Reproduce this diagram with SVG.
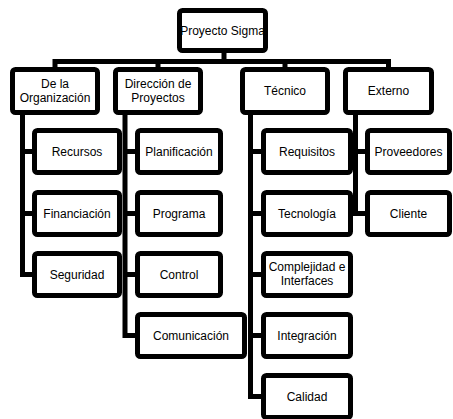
<svg xmlns="http://www.w3.org/2000/svg" width="453" height="419" viewBox="0 0 453 419">
<style>
.box{fill:#fff;stroke:#000;stroke-width:5}
.con{fill:none;stroke:#000;stroke-width:5;stroke-linejoin:miter;stroke-linecap:butt}
text{font-family:"Liberation Sans",Arial,sans-serif;font-size:12px;fill:#000;text-anchor:middle}
</style>
<rect width="453" height="419" fill="#fff"/>
<g id="connectors">
<path class="con" d="M224,53 V61.5 M55,67 V61.5 H388.5 V67 M158,61.5 V67 M285,61.5 V67"/>
<path class="con" d="M22.5,115 V274.5 H32 M22.5,151.5 H32 M22.5,213.5 H32"/>
<path class="con" d="M125,115 V335.5 H135 M125,151.5 H135 M125,213.5 H135 M125,274.5 H135"/>
<path class="con" d="M250.5,115 V396.5 H261 M250.5,151.5 H261 M250.5,213.5 H261 M250.5,274.5 H261 M250.5,335.5 H261"/>
<path class="con" d="M355.5,115 V213.5 H365 M355.5,151.5 H365"/>
</g>
<g id="root"><rect class="box" x="179.5" y="10.5" width="86" height="40" rx="3"/><text x="222.5" y="34.5">Proyecto Sigma</text></g>
<g id="org"><rect class="box" x="12.5" y="69.5" width="85" height="43" rx="3"/><text x="55" y="88">De la</text><text x="55" y="102">Organización</text></g>
<g id="dir"><rect class="box" x="115.5" y="69.5" width="85" height="43" rx="3"/><text x="158" y="88">Dirección de</text><text x="158" y="102">Proyectos</text></g>
<g id="tec"><rect class="box" x="242.5" y="69.5" width="85" height="43" rx="3"/><text x="285" y="95">Técnico</text></g>
<g id="ext"><rect class="box" x="345.5" y="69.5" width="86" height="43" rx="3"/><text x="388.5" y="95">Externo</text></g>
<g id="recursos"><rect class="box" x="34.5" y="130.5" width="85" height="42" rx="3"/><text x="77" y="156">Recursos</text></g>
<g id="financiacion"><rect class="box" x="34.5" y="192.5" width="85" height="42" rx="3"/><text x="77" y="218">Financiación</text></g>
<g id="seguridad"><rect class="box" x="34.5" y="253.5" width="85" height="42" rx="3"/><text x="77" y="279">Seguridad</text></g>
<g id="planificacion"><rect class="box" x="137.5" y="130.5" width="83" height="42" rx="3"/><text x="179" y="156">Planificación</text></g>
<g id="programa"><rect class="box" x="137.5" y="192.5" width="83" height="42" rx="3"/><text x="179" y="218">Programa</text></g>
<g id="control"><rect class="box" x="137.5" y="253.5" width="83" height="42" rx="3"/><text x="179" y="279">Control</text></g>
<g id="comunicacion"><rect class="box" x="137.5" y="314.5" width="107" height="42" rx="3"/><text x="191" y="340">Comunicación</text></g>
<g id="requisitos"><rect class="box" x="263.5" y="130.5" width="87" height="42" rx="3"/><text x="307" y="156">Requisitos</text></g>
<g id="tecnologia"><rect class="box" x="263.5" y="192.5" width="87" height="42" rx="3"/><text x="307" y="218">Tecnología</text></g>
<g id="complejidad"><rect class="box" x="263.5" y="253.5" width="87" height="42" rx="3"/><text x="307" y="271">Complejidad e</text><text x="307" y="285">Interfaces</text></g>
<g id="integracion"><rect class="box" x="263.5" y="314.5" width="87" height="42" rx="3"/><text x="307" y="340">Integración</text></g>
<g id="calidad"><rect class="box" x="263.5" y="375.5" width="87" height="42" rx="3"/><text x="307" y="401">Calidad</text></g>
<g id="proveedores"><rect class="box" x="367.5" y="130.5" width="82" height="42" rx="3"/><text x="408.5" y="156">Proveedores</text></g>
<g id="cliente"><rect class="box" x="367.5" y="192.5" width="82" height="42" rx="3"/><text x="408.5" y="218">Cliente</text></g>
</svg>
